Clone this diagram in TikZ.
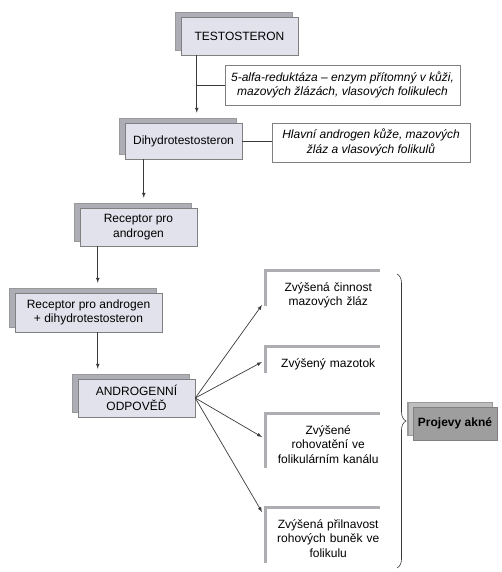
\documentclass[tikz,border=0pt]{standalone}
\usepackage{fontspec}
\setmainfont{Liberation Sans}
\usetikzlibrary{shadows,decorations.pathreplacing}
\definecolor{boxfill}{HTML}{E2E2EC}
\definecolor{shadowfill}{HTML}{ADADB5}
\definecolor{lbarcol}{HTML}{AEAEB2}
\definecolor{aknefill}{HTML}{9E9E9E}
\definecolor{akneshadow}{HTML}{BEBEBE}
\definecolor{linecol}{HTML}{3A3A3A}
\begin{document}
\begin{tikzpicture}[x=1pt,y=-1pt,
    stepbox/.style={draw=gray, line width=0.5pt, fill=boxfill, minimum width=117, minimum height=38,
      align=center, font=\fontsize{12}{14.5}\selectfont,
      general shadow={shadow xshift=-6pt, shadow yshift=5pt, fill=shadowfill, draw=gray!80}},
    notebox/.style={draw=gray, line width=0.5pt, fill=white, align=center,
      font=\fontsize{12}{14.5}\selectfont\itshape},
    lbox/.style={anchor=north west, text width=122, align=center, inner xsep=2pt, inner ysep=12pt,
      font=\fontsize{12}{14.5}\selectfont},
    lbar/.style={draw=lbarcol, line width=3pt},
    arr/.style={-latex, draw=linecol, line width=0.7pt},
    link/.style={draw=linecol, line width=0.6pt}]
    \useasboundingbox (0,0) rectangle (501,572);
    \node[stepbox] (testo) at (239.5,36) {TESTOSTERON};
    \node[notebox, minimum width=235, minimum height=40] (enzym) at (342.5,85)
      {5-alfa-reduktáza -- enzym přítomný v kůži,\\ mazových žlázách, vlasových folikulech};
    \node[stepbox, minimum height=36] (dht) at (183.5,141) {Dihydrotestosteron};
    \node[notebox, minimum width=198, minimum height=39] (hlavni) at (371,142.5)
      {Hlavní androgen kůže, mazových\\ žláz a vlasových folikulů};
    \node[stepbox] (rec) at (138.5,227) {Receptor pro\\ androgen};
    \node[stepbox, minimum width=147, minimum height=39] (recd) at (88.5,312.5)
      {Receptor pro androgen\\ + dihydrotestosteron};
    \node[stepbox] (andr) at (136.5,398) {ANDROGENNÍ\\ ODPOVĚĎ};
    \node[lbox] (e1) at (265,270) {Zvýšená činnost\\ mazových žláz};
    \node[lbox] (e2) at (265,346) {Zvýšený mazotok};
    \node[lbox] (e3) at (265,413) {Zvýšené\\ rohovatění ve\\ folikulárním kanálu};
    \node[lbox] (e4) at (265,507) {Zvýšená přilnavost\\ rohových buněk ve\\ folikulu};
    \node[stepbox, fill=aknefill, minimum width=84, minimum height=33, font=\fontsize{12}{14.5}\selectfont\bfseries,
      general shadow={shadow xshift=-5pt, shadow yshift=5pt, fill=akneshadow, draw=gray!80}] (akne) at (455,423.5) {Projevy akné};
    \coordinate (t1) at ([xshift=16pt]testo.south west);
    \coordinate (d1) at ([xshift=19pt]dht.south west);
    \coordinate (r1) at ([xshift=18pt]rec.south west);
    \coordinate (bt) at (397,274);
    \coordinate (bb) at (397,568);
    \draw[arr, shorten >=10pt] (t1) -- (t1 |- dht.north);
    \draw[link] (enzym.west) -- (enzym.west -| t1);
    \draw[link] (dht.east) -- (dht.east -| hlavni.west);
    \draw[arr, shorten >=10pt] (d1) -- (d1 |- rec.north);
    \draw[arr, shorten >=10pt] (r1) -- (r1 |- recd.north);
    \draw[arr, shorten >=10pt] (r1 |- recd.south) -- (r1 |- andr.north);
    \foreach \n/\b/\d in {e1/36/35, e2/27/16, e3/55/24, e4/56/5}
    {
      \draw[lbar] (\n.north west) ++(0,\b) -- (\n.north west) -- ++(115,0);
      \draw[arr] (andr.east) -- ([xshift=-3pt, yshift=-\d pt]\n.north west);
    }
    \draw[link, decorate, decoration={brace, amplitude=9pt}] (bt) -- (bb);
\end{tikzpicture}
\end{document}
